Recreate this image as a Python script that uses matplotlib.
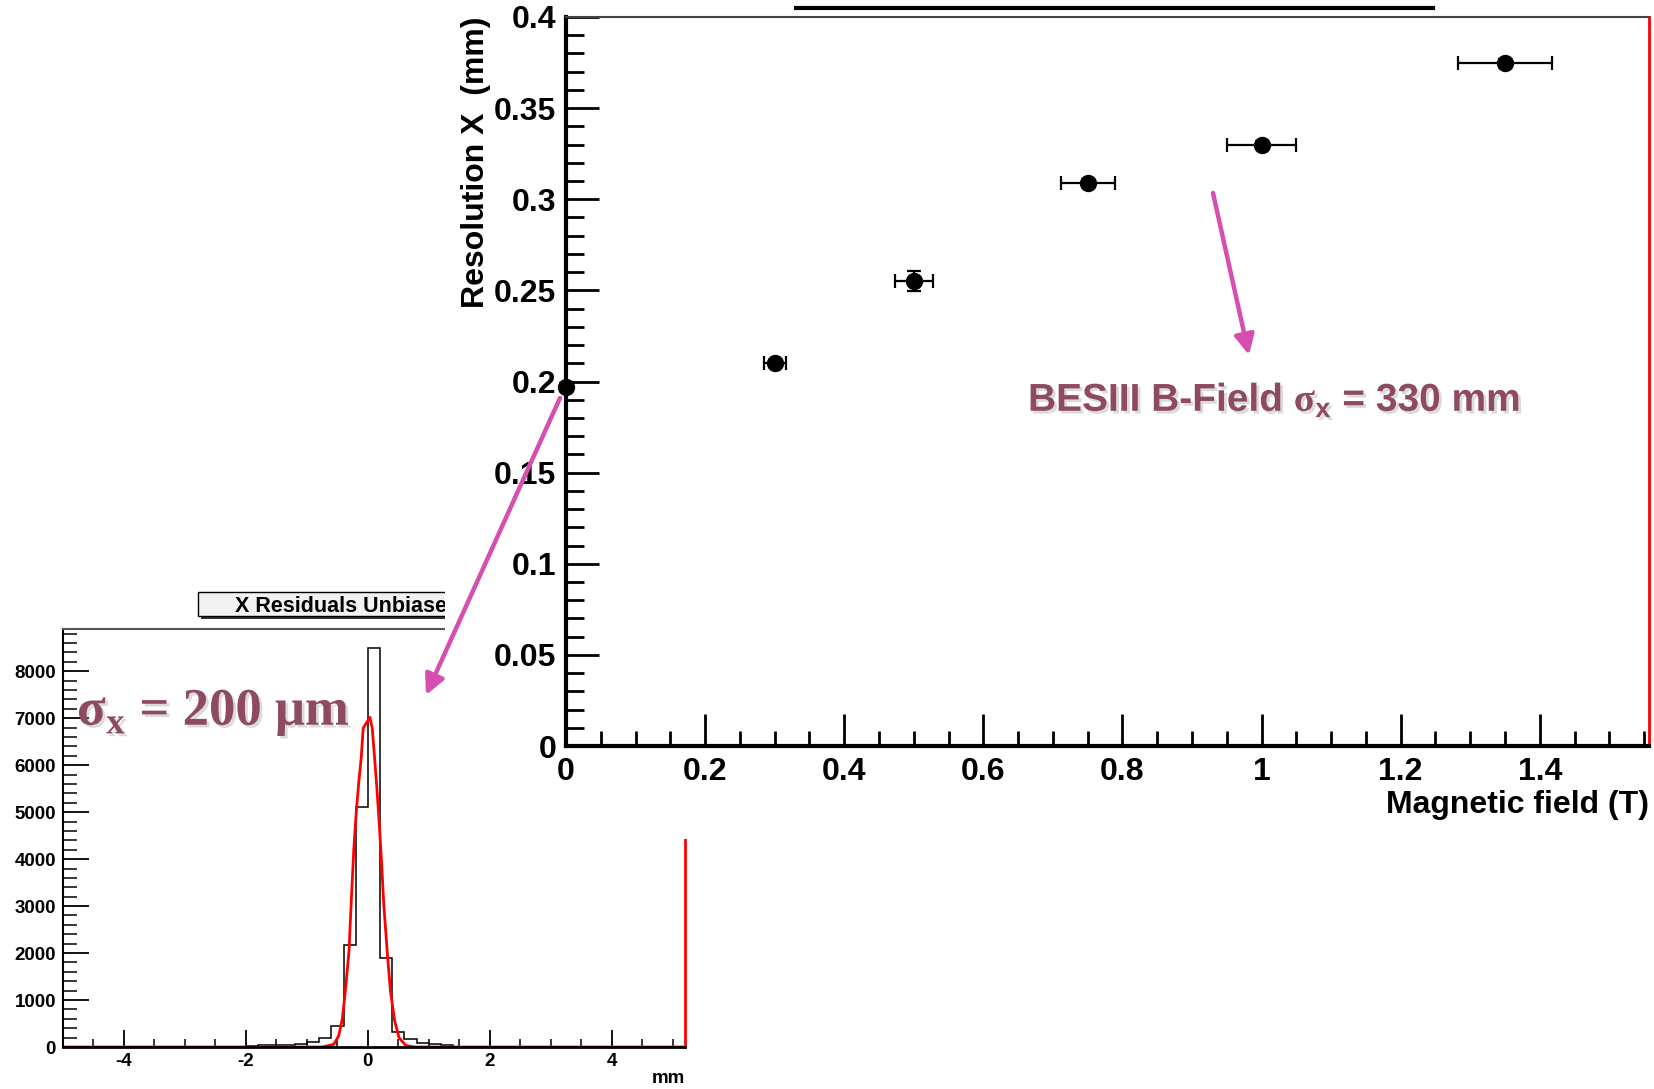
import numpy as np
import matplotlib
matplotlib.use('Agg')
from matplotlib import pyplot as plt
from matplotlib.ticker import MultipleLocator, FormatStrFormatter
from matplotlib.patches import Rectangle, FancyArrowPatch
from matplotlib.lines import Line2D
import matplotlib.patheffects as pe

# Main plot: resolution vs magnetic field
field = [0.0, 0.3, 0.5, 0.75, 1.0, 1.35]
field_err = [0.0, 0.016, 0.027, 0.039, 0.049, 0.067]
resolution = [0.197, 0.210, 0.255, 0.309, 0.330, 0.375]
resolution_err = [0.002, 0.002, 0.0055, 0.002, 0.002, 0.002]

# Inset: X residuals histogram (bin edges in mm, counts)
hist_edges = [-2.0, -1.8, -1.6, -1.4, -1.2, -1.0, -0.8, -0.6, -0.4, -0.2, 0.0,
              0.2, 0.4, 0.6, 0.8, 1.0, 1.2, 1.4, 1.6]
hist_counts = [30, 35, 40, 45, 70, 115, 190, 440, 2170, 5110, 8500,
               1900, 330, 160, 75, 60, 45, 10]

# Gaussian fit curve
fit_x = [-5.0, -0.75, -0.56, -0.48, -0.42, -0.37, -0.31, -0.27, -0.23, -0.19, -0.148,
         -0.11, -0.077, 0.033, 0.071, 0.11, 0.143, 0.18, 0.22, 0.26, 0.32, 0.37,
         0.44, 0.51, 0.62, 0.76, 5.2]
fit_y = [0, 0, 57, 234, 590, 1190, 2040, 3180, 4240, 5020, 5660,
         6150, 6790, 7020, 6790, 6150, 5590, 4880, 4030, 3040, 1970, 1190,
         550, 200, 35, 0, 0]

W, H = 1654, 1089
ANNOT = '#8e4a63'
PINK = '#d64fb0'

plt.rcParams['font.family'] = 'Liberation Sans'
plt.rcParams['font.weight'] = 'bold'
plt.rcParams['axes.labelweight'] = 'bold'
plt.rcParams['mathtext.fontset'] = 'custom'
plt.rcParams['mathtext.rm'] = 'Liberation Serif'
plt.rcParams['mathtext.sf'] = 'Liberation Serif:bold'
plt.rcParams['mathtext.bf'] = 'Liberation Sans:bold'


def box(x0, y0, x1, y1):
    # pixel box (top-left origin) -> figure fraction rect
    return [x0 / W, 1 - y1 / H, (x1 - x0) / W, (y1 - y0) / H]


def pt(x, y):
    return (x / W, 1 - y / H)


fig = plt.figure(figsize=(W / 100, H / 100), dpi=100)

# ---------- inset histogram ----------
ax2 = fig.add_axes(box(63, 629, 685, 1047))
ax2.set_zorder(0)
ax2.stairs(hist_counts, hist_edges, color='black', lw=1.1)
ax2.plot(fit_x, fit_y, color='red', lw=2)
ax2.set_xlim(-5, 5.2)
ax2.set_ylim(0, 8900)
ax2.xaxis.set_major_locator(MultipleLocator(2))
ax2.xaxis.set_minor_locator(MultipleLocator(0.5))
ax2.yaxis.set_major_locator(MultipleLocator(1000))
ax2.yaxis.set_minor_locator(MultipleLocator(200))
ax2.xaxis.set_major_formatter(FormatStrFormatter('%g'))
ax2.tick_params(axis='x', which='major', direction='in', length=12, width=1.3,
                labelsize=13.5, pad=4)
ax2.tick_params(axis='x', which='minor', direction='in', length=6, width=1.1)
ax2.tick_params(axis='y', which='major', direction='in', length=19, width=1.3,
                labelsize=13.5, pad=5)
ax2.tick_params(axis='y', which='minor', direction='in', length=10, width=1.1)
ax2.spines['left'].set_linewidth(1.5)
ax2.spines['bottom'].set_linewidth(2)
ax2.spines['top'].set_color('#555555')
ax2.spines['top'].set_linewidth(1.5)
ax2.spines['right'].set_color('red')
ax2.spines['right'].set_linewidth(2)
ax2.set_xlabel('mm', loc='right', fontsize=13.5, labelpad=0)

# inset title box (partly hidden behind the main plot)
fig.add_artist(Rectangle(pt(201, 619), 330 / W, 25 / H, transform=fig.transFigure,
                         facecolor='#333333', edgecolor='none', zorder=0.4))
fig.add_artist(Rectangle(pt(198, 616), 330 / W, 24 / H, transform=fig.transFigure,
                         facecolor='#f2f2f2', edgecolor='black', lw=1, zorder=0.5))
fig.text(*pt(235, 612), 'X Residuals Unbiased', fontsize=15.5, va='baseline',
         ha='left', zorder=0.6)

# white backdrop of the main plot
fig.add_artist(Rectangle(pt(445, 839), (W - 445) / W, 839 / H, transform=fig.transFigure,
                         facecolor='white', edgecolor='none', zorder=1))

# ---------- main plot ----------
ax = fig.add_axes(box(566, 17, 1649, 746))
ax.set_zorder(2)
eb = ax.errorbar(field, resolution, xerr=field_err, yerr=resolution_err, fmt='o',
                 ms=11.5, color='black', ecolor='black', elinewidth=1.6,
                 capsize=5, capthick=1.6, zorder=3)
for art in eb.get_children():
    art.set_clip_on(False)
ax.set_xlim(0, 1.557)
ax.set_ylim(0, 0.4)
ax.xaxis.set_major_locator(MultipleLocator(0.2))
ax.xaxis.set_minor_locator(MultipleLocator(0.05))
ax.yaxis.set_major_locator(MultipleLocator(0.05))
ax.yaxis.set_minor_locator(MultipleLocator(0.01))
ax.xaxis.set_major_formatter(FormatStrFormatter('%g'))
ax.yaxis.set_major_formatter(FormatStrFormatter('%g'))
ax.tick_params(axis='x', which='major', direction='in', length=23, width=2,
               labelsize=23, pad=8)
ax.tick_params(axis='x', which='minor', direction='in', length=11, width=2)
ax.tick_params(axis='y', which='major', direction='in', length=24, width=2,
               labelsize=23, pad=7)
ax.tick_params(axis='y', which='minor', direction='in', length=13, width=2)
ax.spines['left'].set_linewidth(3)
ax.spines['bottom'].set_linewidth(3)
ax.spines['top'].set_color('#444444')
ax.spines['top'].set_linewidth(1.5)
ax.spines['right'].set_color('red')
ax.spines['right'].set_linewidth(2)
ax.set_xlabel('Magnetic field (T)', loc='right', fontsize=23, labelpad=2)
ax.set_ylabel('Resolution X  (mm)', loc='top', fontsize=23, labelpad=2)

# title box edge above the main frame
fig.add_artist(Line2D([796 / W, 1433 / W], [1 - 8 / H, 1 - 8 / H], transform=fig.transFigure,
                      color='black', lw=3, zorder=3))

# ---------- annotations ----------
shadow = [pe.withSimplePatchShadow(offset=(2, -2), shadow_rgbFace='#999999', alpha=0.35)]
fig.text(*pt(77, 725), 'σ$_{\\mathsf{x}}$ = 200 μm', family='Liberation Serif',
         weight='bold', fontsize=38, color=ANNOT, va='baseline', ha='left',
         zorder=4, path_effects=shadow)
fig.text(*pt(1028, 411), 'BESIII B-Field $\\mathrm{\\sigma}_{\\mathbf{x}}$ = 330 mm',
         fontsize=28, color=ANNOT, va='baseline', ha='left', zorder=4,
         path_effects=shadow)

for start, end in [((560, 398), (426, 695)), ((1213, 193), (1249, 355))]:
    fig.add_artist(FancyArrowPatch(pt(*start), pt(*end), transform=fig.transFigure,
                                   arrowstyle='-|>,head_length=0.6,head_width=0.3',
                                   mutation_scale=20, lw=3.2, color=PINK,
                                   shrinkA=0, shrinkB=0, zorder=5))

fig.savefig('out.png', dpi=100)
